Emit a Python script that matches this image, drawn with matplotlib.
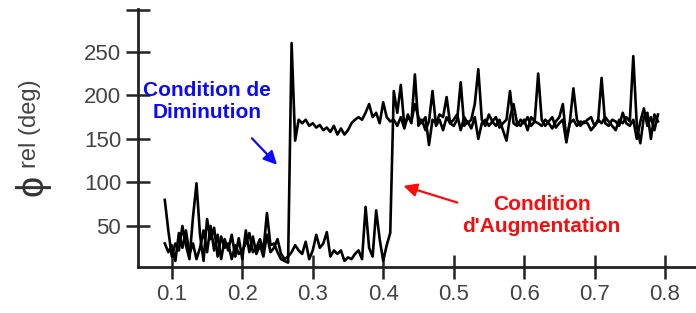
import numpy as np
import matplotlib
matplotlib.use("Agg")
import matplotlib.pyplot as plt

plt.rcParams['font.family'] = ['Liberation Sans', 'DejaVu Sans']

# sampling of both curves (x step 0.005 from 0.09)
x_start = 0.09
x_step = 0.005

# "Condition de Diminution" curve
phi_dim = [80, 45, 15, 30, 22, 50, 28, 12, 60, 99,
           40, 10, 58, 35, 48, 15, 38, 25, 30, 12,
           28, 18, 22, 30, 42, 20, 25, 35, 22, 65,
           28, 30, 20, 12, 10, 8,
           260, 148, 172, 168, 172, 165, 168, 163, 166, 160,
           163, 158, 165, 155, 162, 155, 160, 168, 172, 175,
           172, 180, 190, 175, 180, 168, 192, 175, 170,
           172, 165, 175, 162, 178, 168, 224, 165, 172, 160,
           170, 205, 165, 172, 160, 175, 168, 165, 172, 215,
           165, 170, 162, 175, 150, 168, 172, 165, 170, 175,
           163, 168, 172, 205, 168, 165, 172, 168, 175, 165,
           170, 168, 165, 172, 168, 162, 170, 175, 190, 150,
           168, 172, 165, 170, 168, 172, 175, 165, 170, 220,
           168, 165, 172, 170, 165, 180, 168, 165, 172, 150,
           170, 185, 165, 175, 160, 178]

# "Condition d'Augmentation" curve
phi_aug = [30, 20, 28, 10, 42, 25, 45, 18, 30, 12,
           25, 45, 20, 50, 22, 40, 12, 35, 22, 40,
           15, 36, 12, 45, 20, 38, 18, 28, 15, 40,
           20, 25, 35, 18, 12, 15,
           20, 28, 22, 18, 32, 12, 22, 40, 25, 30,
           43, 15, 22, 18, 22, 10, 14, 12, 18, 22,
           12, 72, 25, 15, 68, 35, 10, 28, 42,
           205, 180, 212, 165, 175, 170, 190, 175, 168, 175,
           143, 172, 168, 178, 175, 198, 168, 172, 178, 160,
           175, 168, 172, 190, 230, 172, 165, 178, 170, 165,
           172, 160, 148, 175, 190, 168, 165, 172, 160, 175,
           170, 225, 172, 165, 170, 175, 163, 168, 172, 146,
           170, 208, 172, 165, 170, 168, 160, 165, 172, 168,
           175, 170, 165, 160, 172, 168, 175, 170, 245, 165,
           145, 175, 180, 150, 178, 170]

x_ticks = [0.1, 0.2, 0.3, 0.4, 0.5, 0.6, 0.7, 0.8]
x_labels = ["0.1", "0.2", "0.3", "0.4", "0.5", "0.6", "0.7", "0.8"]
y_ticks = [50, 100, 150, 200, 250]

x_dim = x_start + x_step * np.arange(len(phi_dim))
x_aug = x_start + x_step * np.arange(len(phi_aug))

fig = plt.figure(figsize=(6.96, 3.13), dpi=100)
ax = fig.add_axes([0.198, 0.147, 0.802, 0.824])

ax.plot(x_dim, phi_dim, color="black", lw=1.9)
ax.plot(x_aug, phi_aug, color="black", lw=1.9)

ax.set_xlim(0.0517, 0.844)
ax.set_ylim(3, 299)

for s in ["top", "right"]:
    ax.spines[s].set_visible(False)
for s in ["left", "bottom"]:
    ax.spines[s].set_linewidth(2)
    ax.spines[s].set_color("#222222")

ax.set_xticks(x_ticks)
ax.set_xticklabels(x_labels)
ax.set_yticks(y_ticks)
ax.set_yticks([298], minor=True)
ax.tick_params(axis="both", direction="inout", length=17, width=1.8,
               color="#222222", labelsize=16, labelcolor="#444444")
ax.tick_params(axis="x", pad=4)
ax.tick_params(axis="y", which="minor", direction="inout", length=17,
               width=1.8, color="#222222")

# y label: big phi + "rel (deg)"
fig.text(0.046, 0.409, "ϕ", rotation=90, ha="center", va="center",
         fontsize=27, color="#333333")
fig.text(0.043, 0.604, "rel (deg)", rotation=90, ha="center", va="center",
         fontsize=17, color="#444444")

# annotations
ax.text(0.150, 193, "Condition de\nDiminution", color="#0a0aff",
        fontsize=15, fontweight="bold", ha="center", va="center",
        linespacing=1.15)
ax.annotate("", xy=(0.252, 118), xytext=(0.211, 153),
            arrowprops=dict(arrowstyle="-|>", color="#0a0aff", lw=1.6,
                            mutation_scale=20))

ax.text(0.625, 62, "Condition\nd'Augmentation", color="#ff0a0a",
        fontsize=15, fontweight="bold", ha="center", va="center",
        linespacing=1.15)
ax.annotate("", xy=(0.425, 97), xytext=(0.509, 76),
            arrowprops=dict(arrowstyle="-|>", color="#ff0a0a", lw=1.6,
                            mutation_scale=20))

fig.savefig("out.png", dpi=100)
